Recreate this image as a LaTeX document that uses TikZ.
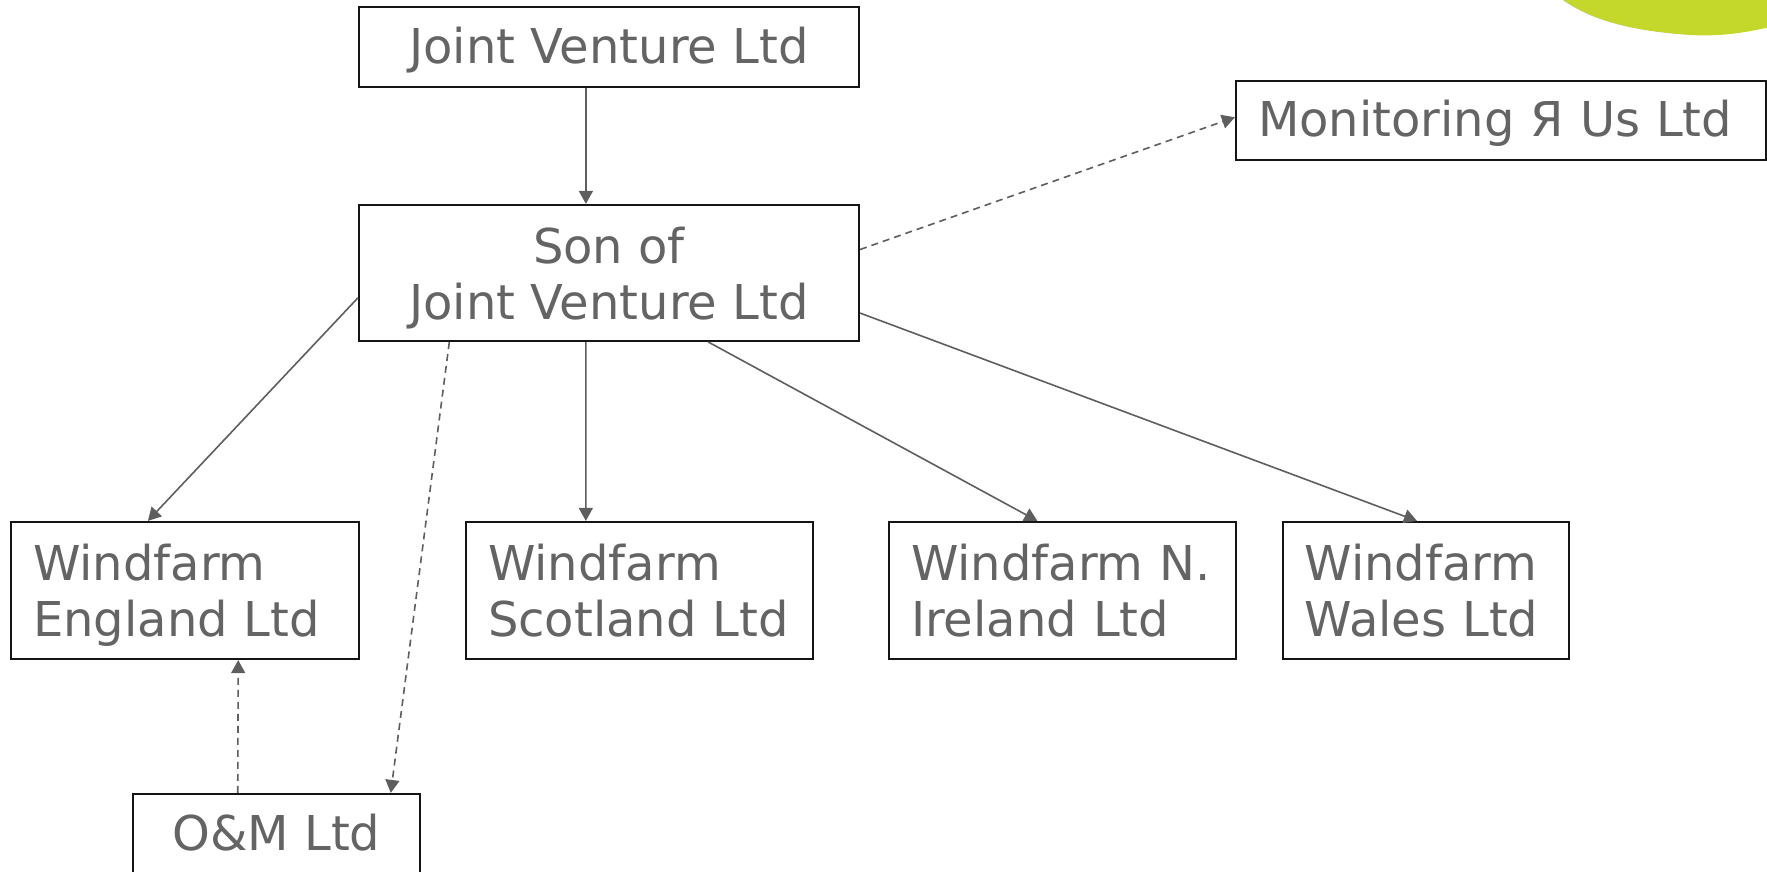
\documentclass[tikz,border=0pt]{standalone}
\usepackage{fontspec}
\setmainfont{DejaVu Sans}
\usetikzlibrary{arrows.meta,calc}
\definecolor{txt}{HTML}{646464}
\definecolor{lin}{HTML}{5E5E5E}
\definecolor{blobc}{HTML}{C4D82B}
\definecolor{brd}{HTML}{151515}
% fixed line metrics (independent of descenders)
\newcommand\lt[1]{\rule[-1pt]{0pt}{20pt}\smash{#1}}
\newcommand\ls[1]{\rule[-1pt]{0pt}{18.3pt}\smash{#1}}
\begin{document}
\begin{tikzpicture}[x=0.5pt,y=-0.5pt,
 box/.style={draw=brd,line width=1.1pt,rectangle,inner ysep=0pt,inner xsep=11pt,text=txt,font=\fontsize{24}{28}\selectfont},
 cbox/.style={box,align=center},
 lbox/.style={box,align=left},
 conn/.style={draw=lin,line width=0.8pt,-{Triangle[length=6.5pt,width=7pt]}},
 dconn/.style={conn,dash pattern=on 3.5pt off 2.5pt}]
\useasboundingbox (0,0) rectangle (1767,872);
% green brush blob
\fill[blobc] (1556,-5) .. controls (1580,14) and (1615,30) .. (1690,35)
  .. controls (1730,37) and (1755,30) .. (1775,26) -- (1775,-5) -- cycle;
% boxes
\node[cbox,minimum width=250pt,minimum height=40pt] (jv) at (609,47) {\ls{Joint Venture Ltd}};
\node[cbox,minimum width=250pt,minimum height=68pt] (son) at (609,273) {\lt{Son of}\\\lt{Joint Venture Ltd}};
\node[lbox,text width=243pt,minimum height=39.5pt] (mon) at (1501,120.5) {\ls{Monitoring Я Us Ltd}};
\node[lbox,text width=152pt,minimum height=68.5pt] (eng) at (185,590.5) {\lt{Windfarm}\\\lt{England Ltd}};
\node[lbox,text width=151.5pt,minimum height=68.5pt] (sco) at (639.6,590.5) {\lt{Windfarm}\\\lt{Scotland Ltd}};
\node[lbox,text width=151.5pt,minimum height=68.5pt] (nir) at (1062.5,590.5) {\lt{Windfarm N.}\\\lt{Ireland Ltd}};
\node[lbox,text width=121pt,minimum height=68.5pt] (wal) at (1425.6,590.5) {\lt{Windfarm}\\\lt{Wales Ltd}};
\node[cbox,minimum width=143.5pt,minimum height=40pt] (om) at (276.5,834) {\ls{O\&M Ltd}};
% connectors
\draw[conn] ($(jv.south west)!0.454!(jv.south east)$) -- ($(son.north west)!0.454!(son.north east)$);
\draw[conn] ($(son.north west)!0.68!(son.south west)$) -- ($(eng.north west)!0.394!(eng.north east)$);
\draw[conn] ($(son.south west)!0.454!(son.south east)$) -- ($(sco.north west)!0.346!(sco.north east)$);
\draw[conn] ($(son.south west)!0.698!(son.south east)$) -- ($(nir.north west)!0.428!(nir.north east)$);
\draw[conn] ($(son.north east)!0.79!(son.south east)$) -- ($(wal.north west)!0.47!(wal.north east)$);
\draw[dconn] ($(son.north east)!0.33!(son.south east)$) -- ($(mon.north west)!0.46!(mon.south west)$);
\draw[dconn] ($(son.south west)!0.182!(son.south east)$) -- ($(om.north west)!0.895!(om.north east)$);
\draw[dconn] ($(om.north west)!0.366!(om.north east)$) -- ($(eng.south west)!0.652!(eng.south east)$);
\end{tikzpicture}
\end{document}
